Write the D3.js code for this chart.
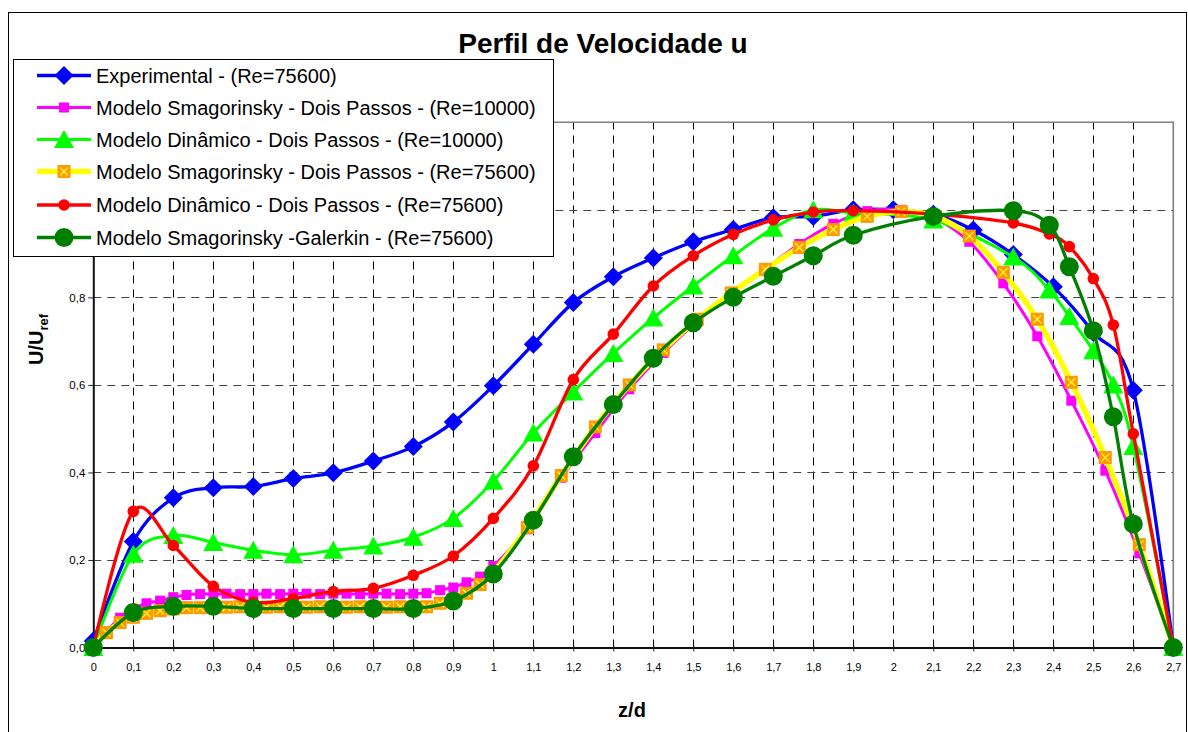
<!DOCTYPE html>
<html>
<head>
<meta charset="utf-8">
<script src="https://cdn.jsdelivr.net/npm/d3@7"></script>
<style>
  body { margin: 0; background: #fff; }
  svg { display: block; }
  text { font-family: "Liberation Sans", Arial, sans-serif; fill: #000; }
</style>
</head>
<body>
<svg id="chart" width="1188" height="732"></svg>
<script>
// ---- data -------------------------------------------------------------
const chartTitle = "Perfil de Velocidade u";
const xTicks = [0,0.1,0.2,0.3,0.4,0.5,0.6,0.7,0.8,0.9,1,1.1,1.2,1.3,1.4,1.5,1.6,1.7,1.8,1.9,2,2.1,2.2,2.3,2.4,2.5,2.6,2.7];
const yTicks = [0,0.2,0.4,0.6,0.8,1.0,1.2];

// experimental profile, z/d every 0.1
const zExp = [0,0.1,0.2,0.3,0.4,0.5,0.6,0.7,0.8,0.9,1.0,1.1,1.2,1.3,1.4,1.5,1.6,1.7,1.8,1.9,2.0,2.1,2.2,2.3,2.4,2.5,2.6,2.7];
const uExperimental = [0.015,0.242,0.342,0.365,0.368,0.386,0.399,0.426,0.459,0.515,0.598,0.693,0.788,0.847,0.89,0.927,0.955,0.982,0.985,1.0,1.0,0.99,0.954,0.898,0.824,0.72,0.588,0];

// two-step Smagorinsky runs (fine mesh)
const zSmag = [0,0.033,0.067,0.1,0.133,0.167,0.2,0.233,0.267,0.3,0.333,0.367,0.4,0.433,0.467,0.5,0.533,0.567,0.6,0.633,0.667,0.7,0.733,0.767,0.8,0.833,0.867,0.9,0.933,0.967,1.0,
               1.085,1.17,1.255,1.34,1.425,1.51,1.595,1.68,1.765,1.85,1.935,2.02,2.105,2.19,2.275,2.36,2.445,2.53,2.615,2.7];
const uSmag10000 = [0,0.036,0.068,0.088,0.101,0.107,0.115,0.12,0.122,0.122,0.123,0.122,0.122,0.123,0.122,0.123,0.123,0.122,0.123,0.123,0.122,0.123,0.123,0.122,0.123,0.124,0.131,0.137,0.149,0.162,0.186,
                    0.27,0.388,0.49,0.59,0.673,0.745,0.808,0.865,0.922,0.968,0.997,1.0,0.98,0.927,0.832,0.711,0.564,0.404,0.215,0];
const uSmag75600 = [0,0.034,0.057,0.069,0.078,0.084,0.088,0.091,0.091,0.092,0.092,0.093,0.092,0.092,0.093,0.092,0.092,0.093,0.092,0.092,0.093,0.092,0.092,0.093,0.092,0.093,0.101,0.11,0.124,0.144,0.172,
                    0.274,0.393,0.504,0.6,0.68,0.75,0.81,0.864,0.914,0.955,0.985,0.996,0.985,0.94,0.857,0.75,0.606,0.434,0.235,0];

// dynamic model and Galerkin runs
const zDyn = [0,0.1,0.2,0.3,0.4,0.5,0.6,0.7,0.8,0.9,1.0,1.1,1.2,1.3,1.4,1.5,1.6,1.7,1.8,1.9,2.1,2.3,2.39,2.44,2.5,2.55,2.6,2.7];
const uDyn10000 = [0,0.213,0.256,0.24,0.222,0.212,0.222,0.232,0.252,0.295,0.38,0.49,0.584,0.672,0.753,0.826,0.895,0.958,1.0,0.993,0.977,0.892,0.817,0.756,0.678,0.6,0.459,0];
const uDyn75600 = [0,0.311,0.233,0.14,0.103,0.112,0.128,0.135,0.165,0.209,0.295,0.415,0.612,0.716,0.826,0.895,0.944,0.977,0.995,0.998,0.99,0.97,0.945,0.916,0.843,0.737,0.488,0];
const uGalerkin = [0,0.08,0.094,0.094,0.089,0.089,0.089,0.089,0.089,0.106,0.168,0.291,0.436,0.555,0.661,0.742,0.8,0.848,0.895,0.942,0.985,0.998,0.965,0.87,0.724,0.527,0.282,0];

const seriesNames = [
  "Experimental - (Re=75600)",
  "Modelo Smagorinsky - Dois Passos - (Re=10000)",
  "Modelo Dinâmico - Dois Passos - (Re=10000)",
  "Modelo Smagorinsky - Dois Passos - (Re=75600)",
  "Modelo Dinâmico - Dois Passos - (Re=75600)",
  "Modelo Smagorinsky -Galerkin - (Re=75600)"
];

// ---- layout -----------------------------------------------------------
const svg = d3.select("#chart");
const x = d3.scaleLinear().domain([0, 2.7]).range([93.3, 1173.3]);
const y = d3.scaleLinear().domain([0, 1.2]).range([647.5, 122.3]);
const crisp = v => Math.round(v) + 0.5;

// outer frame
svg.append("rect").attr("x", 8.5).attr("y", 12.5).attr("width", 1178).attr("height", 740)
  .attr("fill", "#fff").attr("stroke", "#000").attr("stroke-width", 1);

// title
svg.append("text").attr("x", 603).attr("y", 53).attr("text-anchor", "middle")
  .attr("font-size", 28).attr("font-weight", "bold").text(chartTitle);

// grid
const grid = svg.append("g");
grid.selectAll("line.v").data(xTicks.filter(d => d > 0 && d < 2.7)).join("line")
  .attr("x1", d => crisp(x(d))).attr("x2", d => crisp(x(d)))
  .attr("y1", y(0)).attr("y2", y(1.2))
  .attr("stroke", "#000").attr("stroke-width", 1).attr("stroke-dasharray", "8,6");
grid.selectAll("line.h").data(yTicks.filter(d => d > 0 && d < 1.2)).join("line")
  .attr("x1", x(0)).attr("x2", x(2.7))
  .attr("y1", d => crisp(y(d))).attr("y2", d => crisp(y(d)))
  .attr("stroke", "#444").attr("stroke-width", 1).attr("stroke-dasharray", "8,6");

// plot-area border (top / right)
svg.append("path")
  .attr("d", `M${x(0)},${y(1.2)}H${x(2.7)}V${y(0)}`)
  .attr("fill", "none").attr("stroke", "#808080").attr("stroke-width", 1.6);

// axes
const fmtX = d => d3.format("~g")(d).replace(".", ",");
const fmtY = d => d3.format(".1f")(d).replace(".", ",");

const xAxis = svg.append("g").attr("transform", `translate(0,${y(0)})`)
  .call(d3.axisBottom(x).tickValues(xTicks).tickFormat(fmtX).tickSizeInner(4).tickSizeOuter(0).tickPadding(12));
xAxis.select(".domain").attr("stroke", "#111").attr("stroke-width", 2);
xAxis.selectAll(".tick line").attr("stroke", "#222").attr("y1", -3);
xAxis.selectAll(".tick text").attr("font-size", 11).attr("font-family", "Liberation Sans, Arial, sans-serif").attr("fill", "#000");

const yAxis = svg.append("g").attr("transform", `translate(${x(0)},0)`)
  .call(d3.axisLeft(y).tickValues(yTicks).tickFormat(fmtY).tickSizeInner(5).tickSizeOuter(0).tickPadding(3));
yAxis.select(".domain").attr("stroke", "#111").attr("stroke-width", 2);
yAxis.selectAll(".tick line").attr("stroke", "#222");
yAxis.selectAll(".tick text").attr("font-size", 11.5).attr("font-family", "Liberation Sans, Arial, sans-serif").attr("fill", "#000");

// axis titles
svg.append("text").attr("x", 632).attr("y", 717).attr("text-anchor", "middle")
  .attr("font-size", 20).attr("font-weight", "bold").text("z/d");
const yTitle = svg.append("text").attr("transform", "translate(43,365) rotate(-90)")
  .attr("font-size", 20).attr("font-weight", "bold");
yTitle.append("tspan").text("U/U");
yTitle.append("tspan").attr("font-size", 13).attr("dy", 5).text("ref");

// ---- marker shapes ----------------------------------------------------
function drawMarker(g, kind, cx, cy) {
  switch (kind) {
    case "diamond":
      g.append("path").attr("d", `M${cx},${cy-9.5}L${cx+9.5},${cy}L${cx},${cy+9.5}L${cx-9.5},${cy}Z`).attr("fill", "#0000FF");
      break;
    case "square":
      g.append("rect").attr("x", cx-5).attr("y", cy-5).attr("width", 10).attr("height", 10).attr("fill", "#FF00FF");
      break;
    case "triangle":
      g.append("path").attr("d", `M${cx},${cy-9.5}L${cx+10},${cy+8.5}L${cx-10},${cy+8.5}Z`).attr("fill", "#00FF00");
      break;
    case "xsquare":
      g.append("rect").attr("x", cx-6.5).attr("y", cy-6.5).attr("width", 13).attr("height", 13).attr("fill", "#FF9900");
      g.append("path").attr("d", `M${cx-4},${cy-4}L${cx+4},${cy+4}M${cx+4},${cy-4}L${cx-4},${cy+4}`)
        .attr("stroke", "#FFFF33").attr("stroke-width", 1.2);
      break;
    case "dot":
      g.append("circle").attr("cx", cx).attr("cy", cy).attr("r", 5.8).attr("fill", "#FF0000");
      break;
    case "bigdot":
      g.append("circle").attr("cx", cx).attr("cy", cy).attr("r", 9.5).attr("fill", "#008000");
      break;
  }
}

const series = [
  { name: seriesNames[0], z: zExp,  u: uExperimental, line: "#0000FF", width: 3.3, marker: "diamond" },
  { name: seriesNames[1], z: zSmag, u: uSmag10000,    line: "#FF00FF", width: 3,   marker: "square" },
  { name: seriesNames[2], z: zDyn,  u: uDyn10000,     line: "#00FF00", width: 3,   marker: "triangle" },
  { name: seriesNames[3], z: zSmag, u: uSmag75600,    line: "#FFFF00", width: 5.5, marker: "xsquare" },
  { name: seriesNames[4], z: zDyn,  u: uDyn75600,     line: "#FF0000", width: 3.3, marker: "dot" },
  { name: seriesNames[5], z: zDyn,  u: uGalerkin,     line: "#008000", width: 3.3, marker: "bigdot" }
];

const lineGen = d3.line().x(d => x(d[0])).y(d => y(d[1])).curve(d3.curveCardinal.tension(0));

series.forEach(s => {
  const pts = s.z.map((z, i) => [z, s.u[i]]);
  const g = svg.append("g");
  g.append("path").attr("d", lineGen(pts)).attr("fill", "none")
    .attr("stroke", s.line).attr("stroke-width", s.width).attr("stroke-linejoin", "round");
  pts.forEach(p => drawMarker(g, s.marker, x(p[0]), y(p[1])));
});

// ---- legend -----------------------------------------------------------
const legend = svg.append("g");
legend.append("rect").attr("x", 13.5).attr("y", 59.5).attr("width", 540).attr("height", 197)
  .attr("fill", "#fff").attr("stroke", "#000").attr("stroke-width", 1);
const rowY = [75.5, 107.5, 139.5, 171.5, 205, 237.5];
series.forEach((s, i) => {
  const g = legend.append("g");
  g.append("line").attr("x1", 37).attr("x2", 91).attr("y1", rowY[i]).attr("y2", rowY[i])
    .attr("stroke", s.line).attr("stroke-width", s.width);
  drawMarker(g, s.marker, 64, rowY[i]);
  g.append("text").attr("x", 96).attr("y", rowY[i] + 7).attr("font-size", 20).text(s.name);
});
</script>
</body>
</html>
